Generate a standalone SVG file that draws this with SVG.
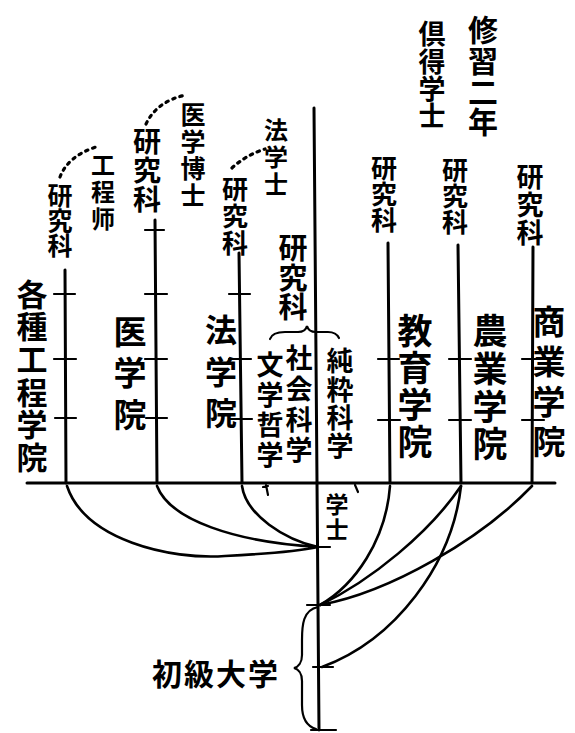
<svg xmlns="http://www.w3.org/2000/svg" width="575" height="733" viewBox="0 0 575 733">
<style>
.ln{fill:none;stroke:#000;stroke-width:3;stroke-linecap:round;stroke-linejoin:round}
.cv{fill:none;stroke:#000;stroke-width:2.6;stroke-linecap:round}
.tk{fill:none;stroke:#000;stroke-width:2.2;stroke-linecap:round}
.dot{fill:none;stroke:#000;stroke-width:3.2;stroke-linecap:round;stroke-dasharray:2.5 5}
text{font-family:"Noto Sans CJK JP","Noto Sans CJK SC",sans-serif;font-weight:700;fill:#000}
.v{writing-mode:vertical-rl;text-anchor:start}
.h{text-anchor:start;dominant-baseline:central}
</style>
<rect width="575" height="733" fill="#fff"/>
<g id="connectors">
<path class="ln" d="M314,108 L319,730"/>
<path class="ln" d="M27,483 L555,483"/>
<path class="ln" d="M65,270 L66,483"/>
<path class="ln" d="M155,220 L157,483"/>
<path class="ln" d="M239,253 L242,483"/>
<path class="ln" d="M388,243 L390,483"/>
<path class="ln" d="M458,245 L461,483"/>
<path class="ln" d="M533,247 L532,483"/>
<path class="tk" d="M54,294 H75 M54,359 H76 M55,418 H76 M145,230 H164 M145,294 H167 M145,359 H167 M146,418 H167 M229,294 H250 M229,359 H251 M230,419 H252 M378,359 H399 M378,420 H400 M449,359 H471 M449,420 H471 M522,359 H544 M522,420 H544 M309,547 H330 M307,605 H330 M313,667 H333 M311,730 H336"/>
<path class="tk" d="M266,485 L268,495 M263,487 L268,486 M355,485 L358,492"/>
<path class="cv" d="M67,486 C85,540 170,560 225,556 C265,554 295,552 318,547"/>
<path class="cv" d="M157,486 C170,520 235,542 318,547"/>
<path class="cv" d="M242,486 C246,515 285,540 318,547"/>
<path class="cv" d="M390,486 C386,540 355,585 320,605"/>
<path class="cv" d="M461,486 C430,532 372,580 320,605"/>
<path class="cv" d="M532,486 C480,540 390,592 320,605"/>
<path class="cv" d="M461,486 C452,565 395,640 322,667"/>
<path class="dot" d="M60,177 Q68,156 96,147"/>
<path class="dot" d="M146,124 Q157,101 186,95"/>
<path class="dot" d="M232,168 Q246,155 265,149"/>
<path class="tk" d="M270,339 C272,333 278,332 285,332 L298,332 C303,332 306,330 307,326 C308,330 311,332 316,332 L328,332 C334,332 337,334 339,338"/>
<path class="tk" d="M318,607 C303,610 302,625 302,640 L302,655 C302,663 298,667 294,668 C298,669 302,673 302,681 L302,705 C302,718 306,726 316,729"/>
</g>
<g id="n-top">
<text class="v" x="483" y="15" font-size="30" letter-spacing="0.7">修習二年</text>
<text class="v" x="432" y="20.5" font-size="27" letter-spacing="0.3">倶得学士</text>
</g>
<g id="n-engineering">
<text class="v" x="103" y="153" font-size="24" letter-spacing="3">工程师</text>
<text class="v" x="60" y="182.5" font-size="25" letter-spacing="0">研究科</text>
<text class="v" x="32" y="278.5" font-size="31" letter-spacing="1.6">各種工程学院</text>
</g>
<g id="n-medicine">
<text class="v" x="193" y="101.5" font-size="25" letter-spacing="2.3">医学博士</text>
<text class="v" x="147" y="127" font-size="28" letter-spacing="1">研究科</text>
<text class="v" x="130" y="314.5" font-size="33" letter-spacing="8.5">医学院</text>
</g>
<g id="n-law">
<text class="v" x="276" y="118" font-size="24" letter-spacing="3">法学士</text>
<text class="v" x="235" y="176" font-size="26" letter-spacing="1">研究科</text>
<text class="v" x="221" y="314" font-size="32" letter-spacing="9.5">法学院</text>
</g>
<g id="n-arts-science">
<text class="v" x="293" y="233.5" font-size="29" letter-spacing="0.5">研究科</text>
<text class="v" x="270" y="351.5" font-size="27" letter-spacing="3">文学哲学</text>
<text class="v" x="299" y="344.5" font-size="27" letter-spacing="3.7">社会科学</text>
<text class="v" x="340" y="347.5" font-size="27" letter-spacing="1.3">純粋科学</text>
</g>
<g id="n-education">
<text class="v" x="384" y="155" font-size="26" letter-spacing="0">研究科</text>
<text class="v" x="415" y="313.5" font-size="35" letter-spacing="2">教育学院</text>
</g>
<g id="n-agriculture">
<text class="v" x="455" y="157" font-size="26" letter-spacing="0">研究科</text>
<text class="v" x="490" y="313.5" font-size="35" letter-spacing="2.7">農業学院</text>
</g>
<g id="n-commerce">
<text class="v" x="530" y="163.5" font-size="27" letter-spacing="1">研究科</text>
<text class="v" x="549" y="305" font-size="33" letter-spacing="7">商業学院</text>
</g>
<g id="n-bachelor">
<text class="v" x="337" y="492.5" font-size="23" letter-spacing="2">学士</text>
</g>
<g id="n-junior">
<text class="h" x="152" y="672" font-size="30" letter-spacing="2">初級大学</text>
</g>
</svg>
